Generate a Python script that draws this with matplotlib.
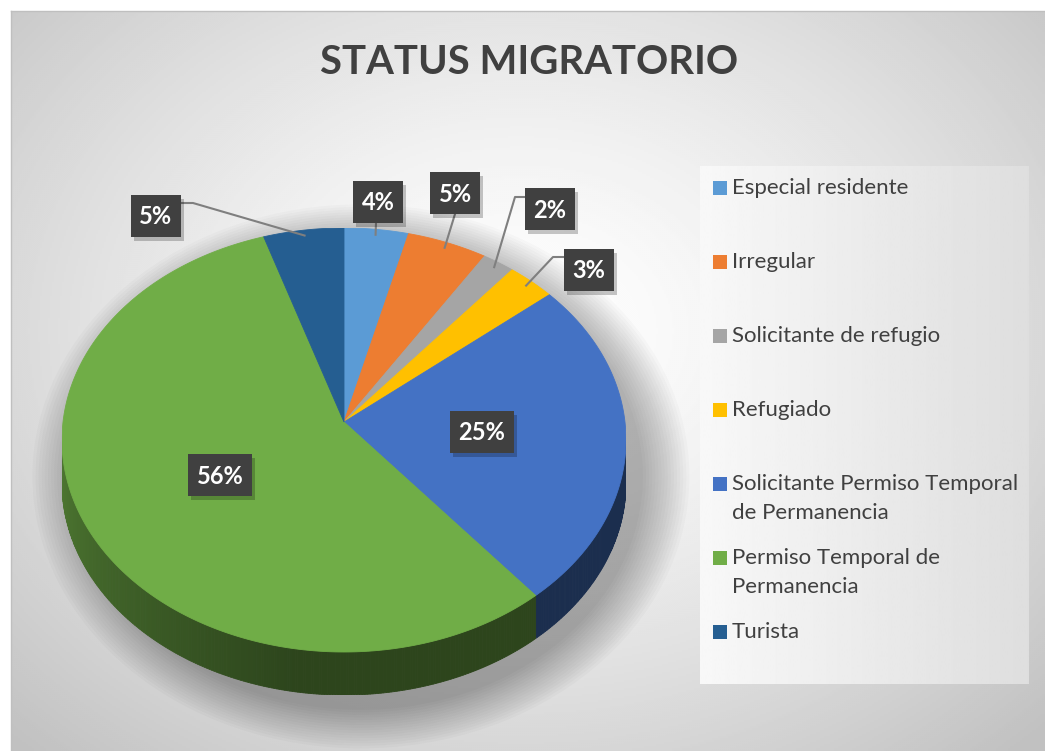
import numpy as np
import matplotlib
matplotlib.use("Agg")
import matplotlib.pyplot as plt
from matplotlib.patches import Rectangle, Polygon, Ellipse
from matplotlib.colors import to_rgb
import textwrap

# data
categories = ["Especial residente", "Irregular", "Solicitante de refugio", "Refugiado",
              "Solicitante Permiso Temporal de Permanencia",
              "Permiso Temporal de Permanencia", "Turista"]
values = [4, 5, 2, 3, 25, 56, 5]
colors = ["#5B9BD5", "#ED7D31", "#A5A5A5", "#FFC000", "#4472C4", "#70AD47", "#255E91"]
title = "STATUS MIGRATORIO"

W, H = 1045, 751
FONT = "Lato"

fig = plt.figure(figsize=(W / 100, H / 100), dpi=100)
fig.patch.set_facecolor("white")

# background axes in pixel coordinates
bg = fig.add_axes([0, 0, 1, 1])
bg.set_xlim(0, W)
bg.set_ylim(H, 0)
bg.axis("off")

x0, y0 = 11, 11
yy, xx = np.mgrid[y0:H:2, x0:W:2]
r = np.sqrt(((xx - 520) / 540.0) ** 2 + ((yy - 330) / 420.0) ** 2)
shade = 255 - 62 * np.clip(r / 1.35, 0, 1) ** 1.4
bg.imshow(shade, cmap="gray", vmin=0, vmax=255, extent=[x0, W, H, y0],
          aspect="auto", interpolation="bilinear", zorder=0)
bg.plot([x0, W], [y0, y0], color="#BFBFBF", lw=1, zorder=1)
bg.plot([x0, x0], [y0, H], color="#BFBFBF", lw=1, zorder=1)

# legend box with soft horizontal gradient
lg = np.linspace(248, 222, 200)[None, :]
bg.imshow(lg, cmap="gray", vmin=0, vmax=255, extent=[700, 1029, 684, 166],
          aspect="auto", zorder=2)

# pie axes: ellipse bounding box x 62..626, top 228, bottom of side 695
depth = 43 / 212.0
tilt = 18 / 212.0   # pie centre sits above the ellipse centre (perspective)
pl, pr, pt, pb = 62, 626, 228, 695
pax = fig.add_axes([pl / W, 1 - pb / H, (pr - pl) / W, (pb - pt) / H])
pax.patch.set_visible(False)


def project(x, y):
    # projective map of the unit disc onto itself moving the centre up
    d = 1 + tilt * y
    return x * np.sqrt(1 - tilt ** 2) / d, (y + tilt) / d


# soft shadow, offset to the lower right
for i in range(16):
    s = 1 + 0.011 * i
    pax.add_patch(Ellipse((0.06, -depth * 0.5 - 0.07), 2 * s, (2 + depth) * s,
                          facecolor="black", edgecolor="none", alpha=0.02,
                          zorder=0.1, clip_on=False))

wedges, _ = pax.pie(values, colors=colors, startangle=90, counterclock=False)
pax.set_aspect("auto")
pax.set_xlim(-1, 1)
pax.set_ylim(-1 - depth, 1)
pax.axis("off")

# redraw each wedge in perspective, plus its visible side
for w, c in zip(wedges, colors):
    w.set_visible(False)
    base = np.array(to_rgb(c))
    th = np.deg2rad(np.linspace(w.theta1, w.theta2, max(3, int(w.theta2 - w.theta1) * 2)))
    px, py = project(np.cos(th), np.sin(th))
    cx0, cy0 = project(0.0, 0.0)
    top = np.vstack([[cx0, cy0], np.c_[px, py]])
    pax.add_patch(Polygon(top, closed=True, facecolor=c, edgecolor=c, lw=0.6, zorder=1))

    idx = np.where(py <= 0)[0]
    for a, b in zip(idx[:-1], idx[1:]):
        if b != a + 1:
            continue
        ang = np.rad2deg(np.arctan2(py[a] + py[b], px[a] + px[b])) % 360
        f = max(0.40, 0.70 - 0.30 * (ang - 180) / 80.0)
        seg = np.array([[px[a], py[a]], [px[b], py[b]],
                        [px[b], py[b] - depth], [px[a], py[a] - depth]])
        pax.add_patch(Polygon(seg, closed=True, facecolor=base * f,
                              edgecolor=base * f, lw=0.6, zorder=0.5))

# overlay axes for labels, title and legend
ov = fig.add_axes([0, 0, 1, 1])
ov.set_xlim(0, W)
ov.set_ylim(H, 0)
ov.axis("off")
ov.patch.set_visible(False)

renderer = fig.canvas.get_renderer()


def fit_size(txt, target, **kw):
    t = ov.text(0, 0, txt, fontsize=10, **kw)
    wpx = t.get_window_extent(renderer).width
    t.remove()
    return 10 * target / wpx


tsize = fit_size(title, 418, family=FONT, weight="bold")
ov.text(529, 62, title, fontsize=tsize, family=FONT, weight="bold",
        color="#404040", ha="center", va="center")

# data labels
label_xy = [(378, 202), (455, 193), (550, 209), (589, 270), (482, 432), (220, 475), (156, 216)]
leader_start = [[(376, 223)], [(455, 214)], [(525, 197), (515, 197)],
                [(564, 257), (553, 257)], None, None, [(181, 203), (193, 203)]]


def to_px(x, y):
    dx, dy = pax.transData.transform((x, y))
    return dx, H - dy


for w, v, (cx, cy), lead in zip(wedges, values, label_xy, leader_start):
    txt = f"{v}%"
    bw, bh = 22 + 14 * len(txt), 42
    if lead is not None:
        mid = np.deg2rad((w.theta1 + w.theta2) / 2)
        ex, ey = project(0.97 * np.cos(mid), 0.97 * np.sin(mid))
        ax_, ay_ = to_px(ex, ey)
        xs = [p[0] for p in lead] + [ax_]
        ys = [p[1] for p in lead] + [ay_]
        ov.plot(xs, ys, color="#7F7F7F", lw=1.5, zorder=3)
    ov.add_patch(Rectangle((cx - bw / 2 + 3, cy - bh / 2 + 4), bw, bh,
                           facecolor="black", alpha=0.22, lw=0, zorder=4))
    ov.add_patch(Rectangle((cx - bw / 2, cy - bh / 2), bw, bh,
                           facecolor="#404040", lw=0, zorder=5))
    ov.text(cx, cy + 1, txt, fontsize=17, family=FONT, weight="bold",
            color="white", ha="center", va="center", zorder=6)

# legend
lsize = fit_size("Solicitante Permiso Temporal", 286, family=FONT)
for i, (name, c) in enumerate(zip(categories, colors)):
    y = 188 + 74 * i
    ov.add_patch(Rectangle((713, y - 7), 14, 14, facecolor=c, lw=0, zorder=5))
    for k, line in enumerate(textwrap.wrap(name, 28)):
        ov.text(732, y + 29 * k, line, fontsize=lsize, family=FONT,
                color="#404040", ha="left", va="center", zorder=6)

fig.savefig("out.png", dpi=100)
